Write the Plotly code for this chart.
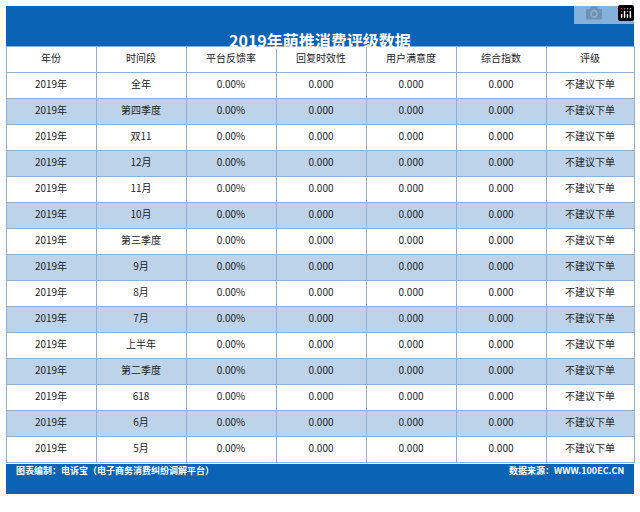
import plotly.graph_objects as go

# table data
headers = ["年份", "时间段", "平台反馈率", "回复时效性", "用户满意度", "综合指数", "评级"]
periods = ["全年", "第四季度", "双11", "12月", "11月", "10月", "第三季度", "9月",
           "8月", "7月", "上半年", "第二季度", "618", "6月", "5月"]
years = ["2019年"] * len(periods)
feedback_rate = [0.0] * len(periods)
reply_speed = [0.0] * len(periods)
satisfaction = [0.0] * len(periods)
composite = [0.0] * len(periods)
ratings = ["不建议下单"] * len(periods)

BLUE = "#0b63b5"
STRIPE = "#bcd3ea"
LINE = "#8fb0d4"
W, H = 640, 512

row_fill = [("white" if i % 2 == 0 else STRIPE) for i in range(len(periods))]

fig = go.Figure()
fig.add_trace(go.Table(
    domain=dict(x=[6 / W, 634 / W], y=[1 - 464 / H, 1 - 46 / H]),
    columnwidth=[90, 90, 90, 90, 90, 90, 88],
    header=dict(
        values=headers,
        fill_color="white",
        line_color=LINE,
        align="center",
        height=26,
        font=dict(family="Noto Sans CJK SC", size=10, color="#222"),
    ),
    cells=dict(
        values=[years, periods,
                [f"{v:.2f}%" for v in feedback_rate],
                [f"{v:.3f}" for v in reply_speed],
                [f"{v:.3f}" for v in satisfaction],
                [f"{v:.3f}" for v in composite],
                ratings],
        fill_color=[row_fill] * 7,
        line_color=LINE,
        align="center",
        height=26,
        font=dict(family="Noto Sans CJK SC", size=10, color="#222"),
    ),
))

# title bar and footer bar
fig.add_shape(type="rect", xref="paper", yref="paper", x0=6 / W, x1=634 / W,
              y0=1 - 46 / H, y1=1 - 6 / H, fillcolor=BLUE, line_width=0, layer="below")
fig.add_shape(type="rect", xref="paper", yref="paper", x0=6 / W, x1=634 / W,
              y0=1 - 494 / H, y1=1 - 464 / H, fillcolor=BLUE, line_width=0, layer="below")

fig.add_annotation(text="<b>2019年萌推消费评级数据</b>", xref="paper", yref="paper",
                   x=0.5, y=1 - 26 / H, showarrow=False,
                   font=dict(family="Noto Sans CJK SC", size=16, color="white"))
fig.add_annotation(text="<b>图表编制：电诉宝（电子商务消费纠纷调解平台）</b>", xref="paper", yref="paper",
                   x=14 / W, y=1 - 479 / H, xanchor="left", showarrow=False,
                   font=dict(family="Noto Sans CJK SC", size=9, color="white"))
fig.add_annotation(text="<b>数据来源：WWW.100EC.CN</b>", xref="paper", yref="paper",
                   x=626 / W, y=1 - 479 / H, xanchor="right", showarrow=False,
                   font=dict(family="Noto Sans CJK SC", size=9, color="white"))

fig.update_layout(width=W, height=H, margin=dict(l=0, r=0, t=0, b=0),
                  paper_bgcolor="white", plot_bgcolor="white")
# drop the default page margin so the figure fills the window exactly
fig.write_html("out.html",
               post_script="document.body.style.margin='0';document.body.style.overflow='hidden';")
